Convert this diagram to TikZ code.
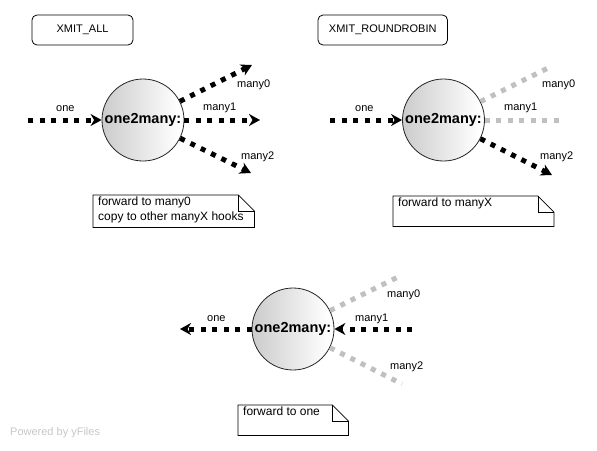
\documentclass[tikz,border=0pt]{standalone}
\usepackage{fontspec}
\setmainfont{Liberation Sans}
\usetikzlibrary{arrows.meta,calc}
\definecolor{faded}{RGB}{192,192,192}
\definecolor{yfgray}{RGB}{200,200,200}
\pgfdeclarehorizontalshading{ballshade}{100bp}{color(0bp)=(gray!62); color(20bp)=(gray!45); color(72bp)=(white); color(100bp)=(gray!28)}
\tikzset{
  ball/.style={circle, draw=black!85, line width=0.8pt, shading=ballshade, minimum size=82pt, inner sep=0pt,
    font=\fontsize{14.5}{16}\selectfont\bfseries},
  titlebox/.style={draw, rounded corners=5pt, line width=0.8pt, inner sep=0pt, font=\fontsize{11}{13}\selectfont},
  lbl/.style={anchor=west, inner sep=0pt, font=\fontsize{11}{13}\selectfont},
  hook/.style={line width=5pt, dash pattern=on 5pt off 6.5pt},
  live/.style={hook, black},
  idle/.style={hook, faded},
  tip/.style={-{Stealth[length=11pt,width=12pt,inset=3.5pt]}},
  tipback/.style={{Stealth[length=11pt,width=12pt,inset=3.5pt]}-},
  noteframe/.style={inner sep=0pt, anchor=north west},
  notetext/.style={inner sep=0pt, anchor=north west, align=left, font=\fontsize{12}{15}\selectfont},
  noteline/.style={line width=0.8pt}
}
\newcommand{\drawnote}[1]{%
  \draw[noteline] (#1.north west) -- ($(#1.north east)+(-16pt,0)$) -- ($(#1.north east)+(0,-16pt)$)
    -- (#1.south east) -- (#1.south west) -- cycle;
  \draw[noteline] ($(#1.north east)+(-16pt,0)$) -- ($(#1.north east)+(-16pt,-16pt)$) -- ($(#1.north east)+(0,-16pt)$);
}
\begin{document}
\begin{tikzpicture}[x=1pt,y=-1pt]
\useasboundingbox[fill=white] (0,0) rectangle (597,450);

% ---------- Panel 1 : XMIT_ALL ----------
\node[titlebox, minimum width=101pt, minimum height=30pt] (t1) at (82.5,30) {XMIT\_ALL};
\node[ball] (c1) at (143,120) {one2many:};
\coordinate (o1) at (28,120);
\coordinate (a0) at (252,65);
\coordinate (a1) at (260,120);
\coordinate (a2) at (251,173);
\draw[live,tip] (o1) -- (c1);
\draw[live,tip] (c1) -- (a0);
\draw[live,tip] (c1) -- (a1);
\draw[live,tip] (c1) -- (a2);
\node[lbl] (l1o) at (56,109) {one};
\node[lbl] (l1m0) at (237,85) {many0};
\node[lbl] (l1m1) at (203,108) {many1};
\node[lbl] (l1m2) at (241,157) {many2};
\node[noteframe, minimum width=161pt, minimum height=32pt] (n1) at (93,195) {};
\drawnote{n1}
\node[notetext] (n1t) at ($(n1.north west)+(5pt,-2pt)$) {forward to many0\\copy to other manyX hooks};

% ---------- Panel 2 : XMIT_ROUNDROBIN ----------
\node[titlebox, minimum width=129.5pt, minimum height=30pt] (t2) at (382.75,30) {XMIT\_ROUNDROBIN};
\node[ball] (c2) at (443.5,120) {one2many:};
\coordinate (o2) at (330,120);
\coordinate (b0) at (552,66);
\coordinate (b1) at (560,120);
\coordinate (b2) at (552,175);
\draw[live,tip] (o2) -- (c2);
\draw[idle] (c2) -- (b0);
\draw[idle] (c2) -- (b1);
\draw[live,tip] (c2) -- (b2);
\node[lbl] (l2o) at (355,109) {one};
\node[lbl] (l2m0) at (542,85) {many0};
\node[lbl] (l2m1) at (504,108) {many1};
\node[lbl] (l2m2) at (540,157) {many2};
\node[noteframe, minimum width=160.5pt, minimum height=30pt] (n2) at (393,196) {};
\drawnote{n2}
\node[notetext] (n2t) at ($(n2.north west)+(5pt,-2pt)$) {forward to manyX};

% ---------- Panel 3 : reverse ----------
\node[ball] (c3) at (293,329) {one2many:};
\coordinate (o3) at (180,329);
\coordinate (d0) at (402,275);
\coordinate (d1) at (412,329);
\coordinate (d2) at (402,384);
\draw[live,tip] (c3) -- (o3);
\draw[idle] (c3) -- (d0);
\draw[live,tip] (d1) -- (c3);
\draw[idle] (c3) -- (d2);
\node[lbl] (l3o) at (207,319) {one};
\node[lbl] (l3m0) at (387,295) {many0};
\node[lbl] (l3m1) at (355,319) {many1};
\node[lbl] (l3m2) at (390,367) {many2};
\node[noteframe, minimum width=110pt, minimum height=30pt] (n3) at (238,405) {};
\drawnote{n3}
\node[notetext] (n3t) at ($(n3.north west)+(5pt,-2pt)$) {forward to one};

% ---------- footer ----------
\node[lbl, text=yfgray] (yf) at (10,433) {Powered by yFiles};
\end{tikzpicture}
\end{document}
